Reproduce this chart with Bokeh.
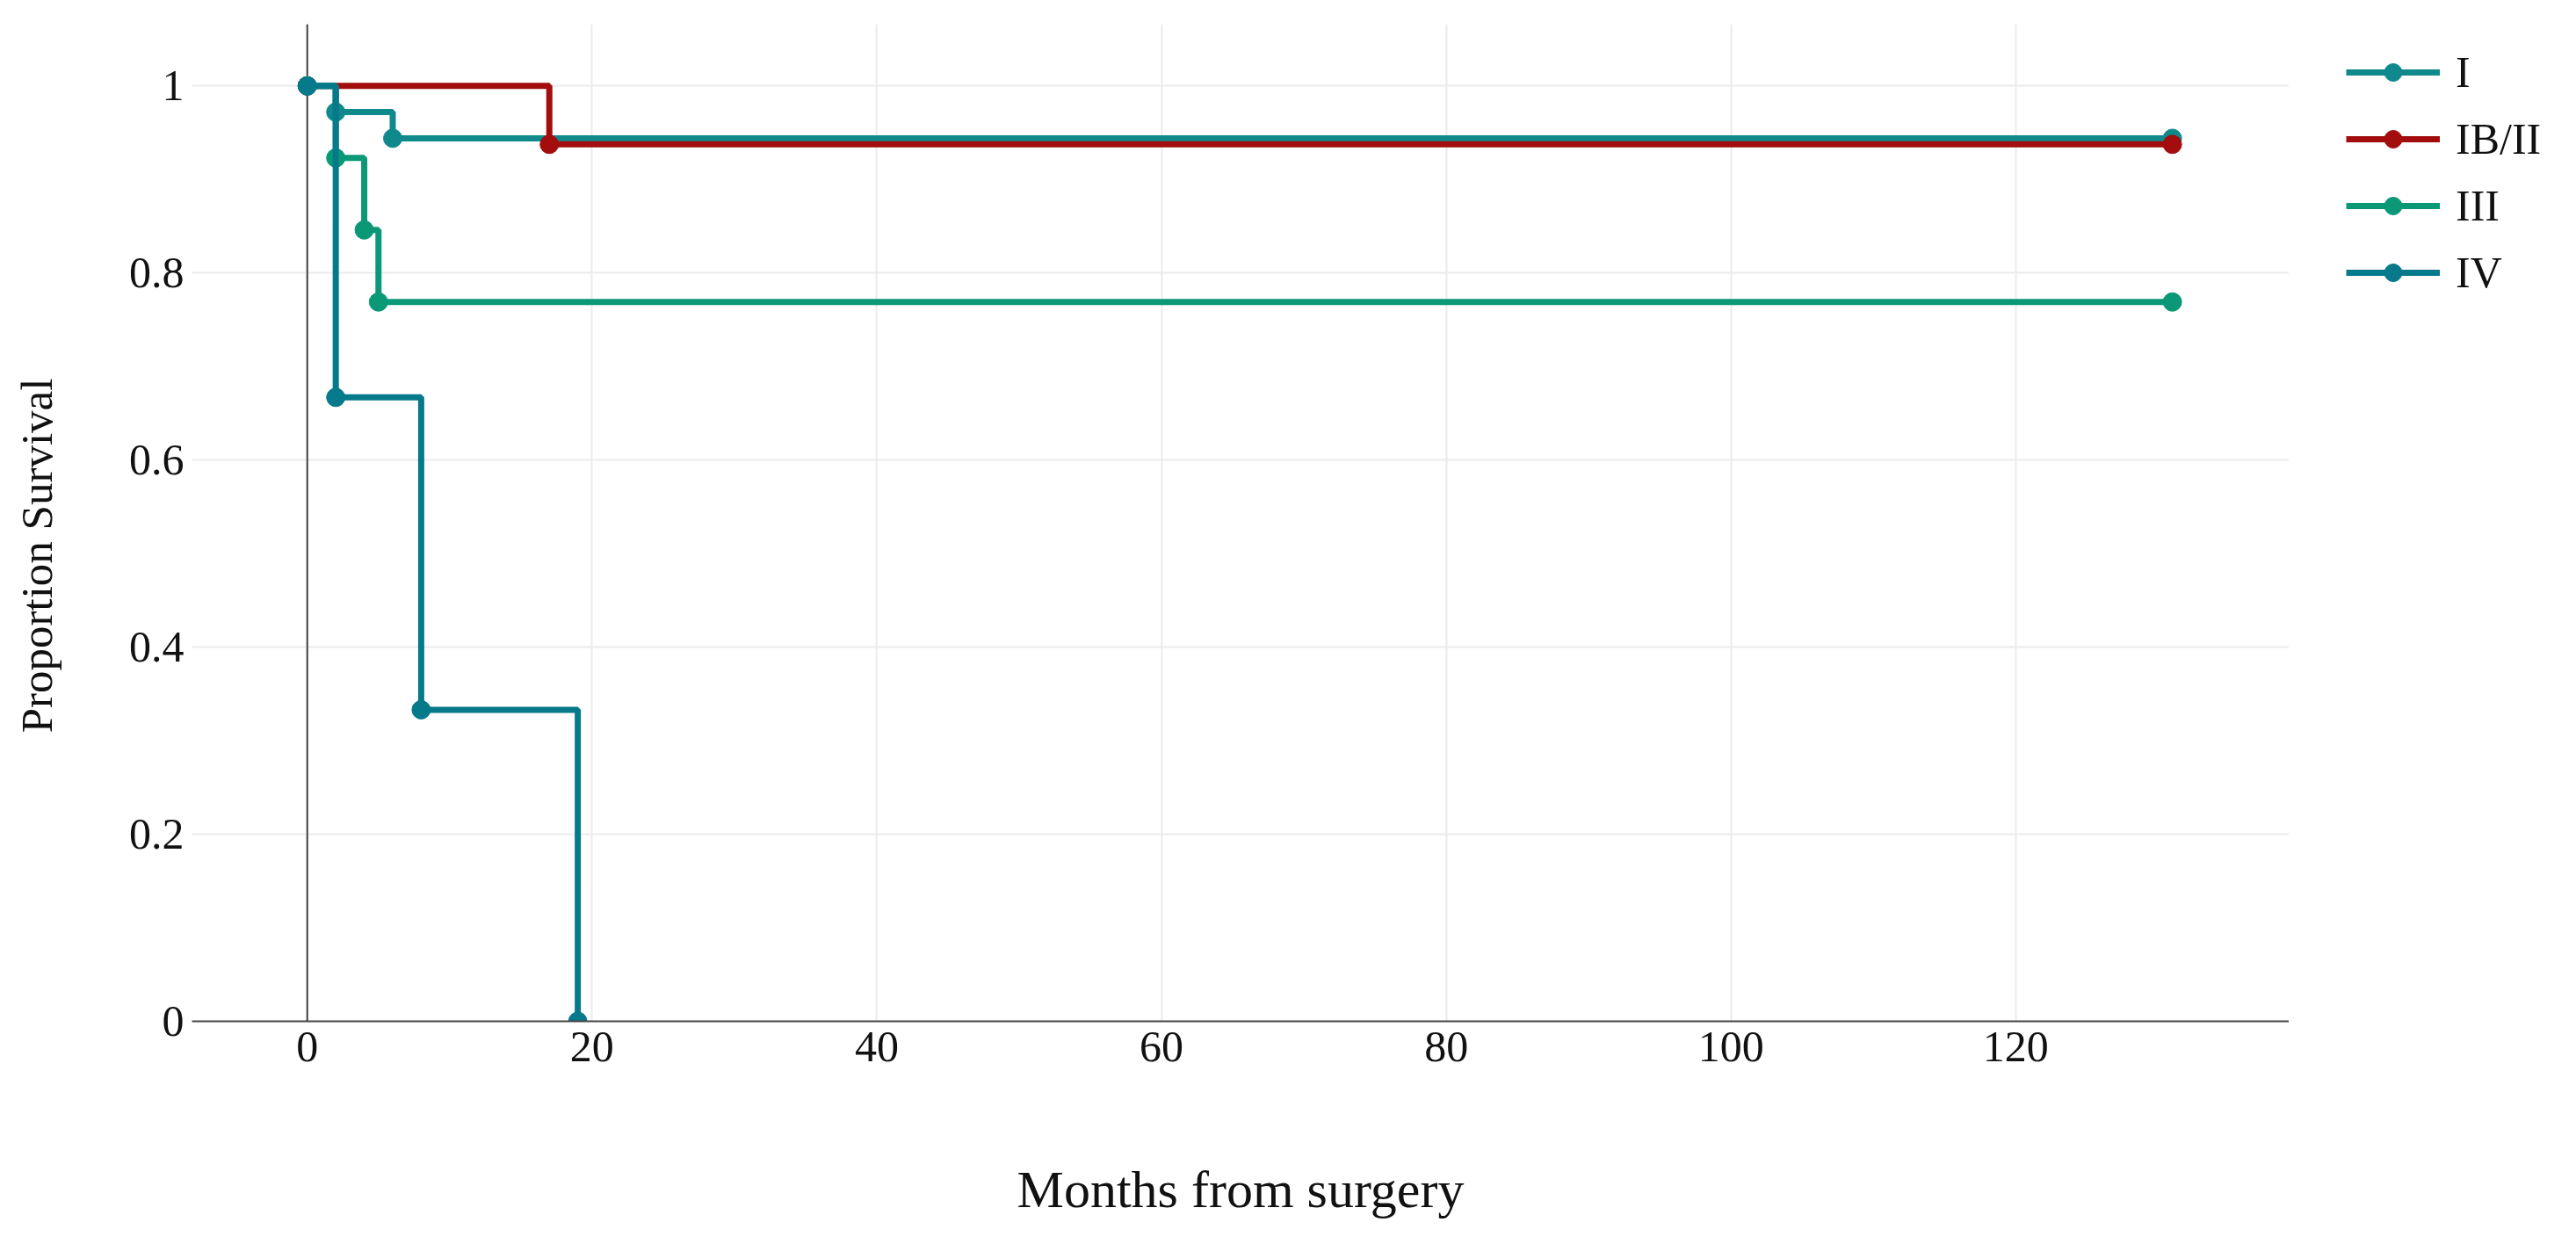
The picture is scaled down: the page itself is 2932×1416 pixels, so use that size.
import math
from bokeh.plotting import figure
from bokeh.layouts import row
from bokeh.models import Range1d, FixedTicker, Span, Label
from bokeh.embed import file_html
from bokeh.resources import INLINE

# ---- data ----
series_names = ["I", "IB/II", "III", "IV"]
months_I = [0, 2, 6, 131]
surv_I = [1.0, 0.972, 0.944, 0.944]
months_IBII = [0, 17, 131]
surv_IBII = [1.0, 0.9375, 0.9375]
months_III = [0, 2, 4, 5, 131]
surv_III = [1.0, 0.923, 0.846, 0.769, 0.769]
months_IV = [0, 2, 8, 19]
surv_IV = [1.0, 0.667, 0.333, 0.0]

x_ticks = [0, 20, 40, 60, 80, 100, 120]
y_ticks = [0, 0.2, 0.4, 0.6, 0.8, 1]
y_tick_labels = ["0", "0.2", "0.4", "0.6", "0.8", "1"]
x_title = "Months from surgery"
y_title = "Proportion Survival"

colors = ["#10898D", "#A30D0D", "#0B9877", "#06798A"]
FONT = "Liberation Serif"
H = 1400
TOP, BOTTOM = 27, 238          # frame borders (frames of a row are aligned)
FRAME_H = H - TOP - BOTTOM
LEFT_W, LEGEND_W = 100, 311
MAIN_W = 2916 - LEFT_W - LEGEND_W

all_x = [months_I, months_IBII, months_III, months_IV]
all_y = [surv_I, surv_IBII, surv_III, surv_IV]

# ---------------- main plot ----------------
p = figure(width=MAIN_W, height=H, output_backend="svg", toolbar_location=None,
           x_range=Range1d(-8.1, 139.2), y_range=Range1d(0, 1.066),
           min_border_left=118, min_border_right=0, min_border_top=TOP, min_border_bottom=BOTTOM)
p.outline_line_color = None

p.xgrid.ticker = FixedTicker(ticks=x_ticks)
p.ygrid.ticker = FixedTicker(ticks=y_ticks)
for g in (p.xgrid, p.ygrid):
    g.grid_line_color = "#EBEBEB"
    g.grid_line_width = 2

p.add_layout(Span(location=0, dimension="height", line_color="#444444", line_width=2, level="underlay"))

xa = p.xaxis[0]
xa.ticker = FixedTicker(ticks=x_ticks)
xa.axis_line_color = "#444444"
xa.axis_line_width = 2
xa.major_tick_line_color = None
xa.minor_tick_line_color = None
xa.major_tick_in = 0
xa.major_tick_out = 0
xa.major_label_standoff = 12
xa.major_label_text_font = FONT
xa.major_label_text_font_size = "50px"
xa.major_label_text_color = "#111111"
xa.axis_label = x_title
xa.axis_label_text_font = FONT
xa.axis_label_text_font_style = "normal"
xa.axis_label_text_font_size = "60px"
xa.axis_label_text_color = "#111111"
xa.axis_label_standoff = 110

ya = p.yaxis[0]
ya.ticker = FixedTicker(ticks=y_ticks)
ya.major_label_overrides = {t: l for t, l in zip(y_ticks, y_tick_labels)}
ya.axis_line_color = None
ya.major_tick_line_color = None
ya.minor_tick_line_color = None
ya.major_tick_in = 0
ya.major_tick_out = 0
ya.major_label_standoff = 9
ya.major_label_text_font = FONT
ya.major_label_text_font_size = "50px"
ya.major_label_text_color = "#111111"

for xs, ys, c in zip(all_x, all_y, colors):
    p.step(xs, ys, mode="after", line_color=c, line_width=7)
    p.scatter(xs, ys, size=21, fill_color=c, line_color=c)

# ---------------- y title strip ----------------
lt = figure(width=LEFT_W, height=H, output_backend="svg", toolbar_location=None,
            x_axis_type=None, y_axis_type=None,
            min_border_left=0, min_border_right=0, min_border_top=TOP, min_border_bottom=BOTTOM,
            x_range=Range1d(0, LEFT_W), y_range=Range1d(0, FRAME_H))
lt.outline_line_color = None
lt.add_layout(Label(x=41, y=(H - BOTTOM) - 632, text=y_title, angle=math.pi / 2,
                    text_align="center", text_baseline="middle",
                    text_font=FONT, text_font_size="51px", text_color="#111111"))

# ---------------- legend strip ----------------
lgf = figure(width=LEGEND_W, height=H, output_backend="svg", toolbar_location=None,
             x_axis_type=None, y_axis_type=None,
             min_border_left=0, min_border_right=0, min_border_top=TOP, min_border_bottom=BOTTOM,
             x_range=Range1d(500, 600), y_range=Range1d(0, 1))
lgf.outline_line_color = None
for name, xs, ys, c in zip(series_names, all_x, all_y, colors):
    lgf.step(xs, ys, mode="after", line_color=c, line_width=7, legend_label=name)
    lgf.scatter(xs, ys, size=21, fill_color=c, line_color=c, legend_label=name)

lg = lgf.legend[0]
lg.location = (65, (H - BOTTOM) - 339)
lg.margin = 0
lg.padding = 0
lg.border_line_color = None
lg.background_fill_alpha = 0
lg.glyph_width = 107
lg.glyph_height = 50
lg.label_height = 50
lg.spacing = 18
lg.label_standoff = 18
lg.label_text_font = FONT
lg.label_text_font_size = "50px"
lg.label_text_color = "#111111"

layout = row(lt, p, lgf, spacing=0)
open("out.html", "w").write(file_html(layout, INLINE))
